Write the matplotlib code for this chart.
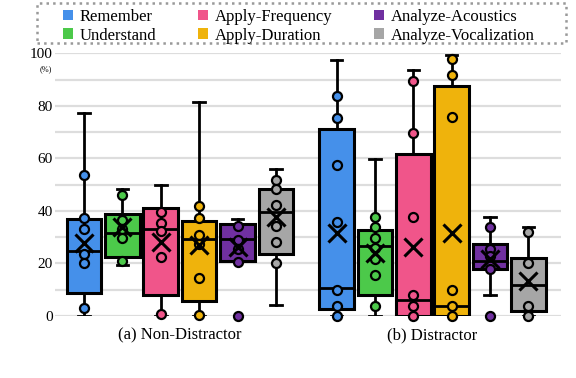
import matplotlib.pyplot as plt
from matplotlib.patches import Rectangle

plt.rcParams['font.family'] = ['Liberation Serif', 'DejaVu Serif']

labels = ["Remember", "Understand", "Apply-Frequency", "Apply-Duration",
          "Analyze-Acoustics", "Analyze-Vocalization"]
colors = ["#4590EA", "#4CC94A", "#F0558A", "#EFB30C", "#7030A0", "#A6A6A6"]
groups = ["(a) Non-Distractor", "(b) Distractor"]

# box stats per group: (whislo, q1, med, q3, whishi, mean)
stats_nd = [
    (0.0, 8.6, 24.6, 36.8, 77.2, 27.9),
    (19.3, 22.6, 31.5, 38.8, 48.2, 33.8),
    (0.0, 8.0, 33.2, 41.1, 49.7, 28.2),
    (0.0, 5.8, 29.2, 36.0, 81.6, 27.2),
    (21.1, 21.1, 29.2, 35.0, 36.8, 26.1),
    (4.1, 23.7, 39.6, 48.5, 55.8, 37.8),
]
stats_d = [
    (0.0, 2.5, 10.7, 71.1, 97.5, 31.5),
    (0.0, 8.1, 26.8, 32.7, 59.8, 23.9),
    (0.0, 0.0, 6.0, 61.7, 93.7, 26.1),
    (0.0, 0.0, 3.8, 87.6, 99.5, 31.7),
    (7.9, 18.0, 21.1, 27.4, 37.6, 21.8),
    (0.0, 1.8, 11.9, 22.0, 33.8, 13.5),
]
# individual scores
points_nd = [
    [53.8, 37.3, 33.2, 23.6, 20.3, 2.9],
    [46.2, 36.5, 33.2, 29.7, 21.1],
    [39.6, 35.5, 32.2, 22.3, 0.8],
    [41.9, 37.3, 30.7, 27.4, 14.3, 0.3],
    [34.3, 28.9, 25.6, 20.6, 0.0],
    [51.8, 48.5, 42.4, 34.3, 28.0, 20.3],
]
points_d = [
    [83.8, 75.5, 57.6, 35.9, 9.9, 3.8, 0.0],
    [37.8, 33.8, 29.7, 25.9, 21.8, 15.7, 3.8],
    [89.6, 69.7, 37.8, 8.0, 3.8, 0.0],
    [97.7, 91.6, 75.6, 9.9, 3.8, 0.0],
    [34.0, 25.6, 22.8, 17.8, 0.0],
    [32.0, 20.1, 3.8, 0.0],
]

fig = plt.figure(figsize=(5.76, 3.78), dpi=100)
ax = fig.add_axes([0.0955, 0.164, 0.878, 0.695])

gap = 1.58
group_pos = [[i for i in range(6)], [6 + gap - 1 + i for i in range(6)]]

for g, (stats, pts) in enumerate([(stats_nd, points_nd), (stats_d, points_d)]):
    bxp_stats = []
    for s in stats:
        bxp_stats.append(dict(whislo=s[0], q1=s[1], med=s[2], q3=s[3],
                              whishi=s[4], mean=s[5], fliers=[]))
    pos = group_pos[g]
    bp = ax.bxp(bxp_stats, positions=pos, widths=0.9, patch_artist=True,
                showmeans=False, showfliers=False,
                boxprops=dict(linewidth=2.2, edgecolor='black'),
                medianprops=dict(color='black', linewidth=2),
                whiskerprops=dict(color='black', linewidth=2),
                capprops=dict(color='black', linewidth=2),
                capwidths=0.3, zorder=3)
    for patch, c in zip(bp['boxes'], colors):
        patch.set_facecolor(c)
    for i, p in enumerate(pos):
        ax.plot([p] * len(pts[i]), pts[i], 'o', ms=6.5, mfc=colors[i],
                mec='black', mew=1.6, zorder=4, clip_on=False)
        ax.plot(p, stats[i][5], marker='x', ms=13, mew=2.2, color='black',
                zorder=5)

ax.set_ylim(0, 100)
ax.set_xlim(-0.755, 12.42)
ax.set_yticks(range(0, 101, 10))
ax.set_yticklabels([str(v) if v % 20 == 0 else '' for v in range(0, 101, 10)],
                   fontsize=11)
ax.tick_params(axis='y', length=0, pad=1.5)
ax.set_xticks([])
ax.grid(axis='y', color='#DDDDDD', linewidth=1.6, zorder=0)
ax.set_axisbelow(True)
for sp in ax.spines.values():
    sp.set_visible(False)

ax.text(-1.0, 94, "(%)", fontsize=6, ha='center', va='center')

for g in range(2):
    cx = (group_pos[g][0] + group_pos[g][-1]) / 2
    ax.text(cx, -4.5, groups[g], fontsize=12, ha='center', va='top')

# legend without its own frame, dotted box drawn separately
handles = [plt.Rectangle((0, 0), 1, 1, fc=c, ec='none') for c in colors]
fig.legend(handles, labels, ncol=3, loc='upper left',
           bbox_to_anchor=(63 / 576, 1 - 9 / 378), fontsize=12,
           frameon=False, handlelength=0.6, handleheight=0.6,
           handletextpad=0.4, columnspacing=2.5, labelspacing=0.15,
           borderpad=0, borderaxespad=0)
fig.patches.append(Rectangle((37 / 576, 335 / 378), 529 / 576, 40 / 378,
                             transform=fig.transFigure, fill=False,
                             edgecolor='#999999', linestyle=':',
                             linewidth=1.8))

fig.savefig('out.png', dpi=100)
